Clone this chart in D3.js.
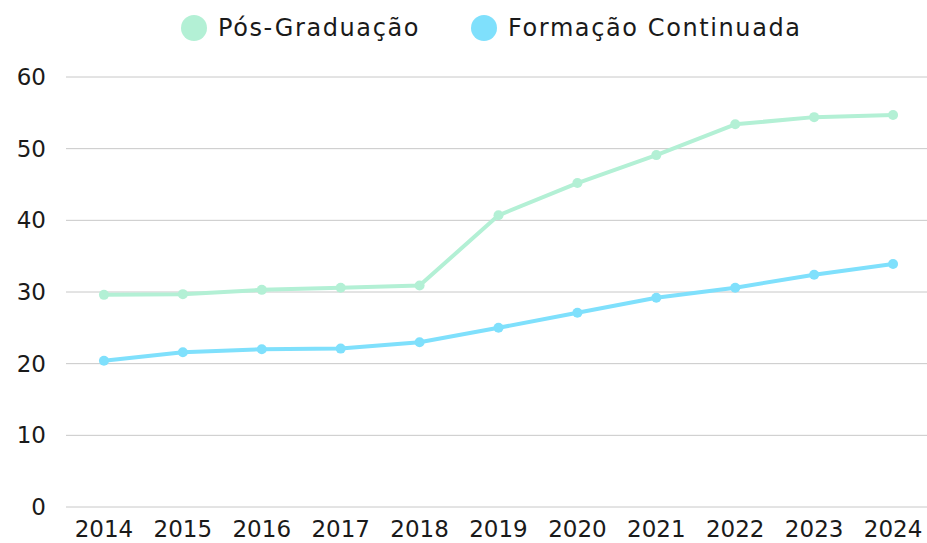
<!DOCTYPE html>
<html>
<head>
<meta charset="utf-8">
<script src="https://cdn.jsdelivr.net/npm/d3@7"></script>
<style>
  body { margin: 0; background: #fff; }
  svg text { font-family: "DejaVu Sans", sans-serif; fill: #1a1a1a; }
</style>
</head>
<body>
<svg id="chart" width="927" height="543"></svg>
<script>
// data
const years = ['2014','2015','2016','2017','2018','2019','2020','2021','2022','2023','2024'];
const posGraduacao = [29.6, 29.7, 30.3, 30.6, 30.9, 40.7, 45.2, 49.1, 53.4, 54.4, 54.7];
const formacaoContinuada = [20.4, 21.6, 22.0, 22.1, 23.0, 25.0, 27.1, 29.2, 30.6, 32.4, 33.9];
const yTicks = [0, 10, 20, 30, 40, 50, 60];

const series = [
  { name: 'Pós-Graduação', values: posGraduacao, color: '#b3f0d5' },
  { name: 'Formação Continuada', values: formacaoContinuada, color: '#7fe0fc' }
];

const svg = d3.select('#chart');
const w = 927, h = 543;
const margin = { top: 77, bottom: 36, left: 66 };

// categories are spaced ~79px, the last band runs a bit past the window edge
const x = d3.scaleBand().domain(years).range([64.5, 932.5]).padding(0);
const y = d3.scaleLinear().domain([0, 60]).range([h - margin.bottom, margin.top]);
const cx = d => x(d) + x.bandwidth() / 2;

// gridlines
svg.append('g')
  .selectAll('line')
  .data(yTicks)
  .join('line')
  .attr('x1', margin.left)
  .attr('x2', w)
  .attr('y1', d => y(d))
  .attr('y2', d => y(d))
  .attr('stroke', '#c8c8c8')
  .attr('stroke-width', 1);

// y labels
svg.append('g')
  .selectAll('text')
  .data(yTicks)
  .join('text')
  .attr('x', 46)
  .attr('y', d => y(d))
  .attr('dy', '0.35em')
  .attr('text-anchor', 'end')
  .style('font-size', '23px')
  .text(d => d);

// x labels
svg.append('g')
  .selectAll('text')
  .data(years)
  .join('text')
  .attr('x', cx)
  .attr('y', 529)
  .attr('dy', '0.35em')
  .attr('text-anchor', 'middle')
  .style('font-size', '23px')
  .text(d => d);

const line = d3.line()
  .x((d, i) => cx(years[i]))
  .y(d => y(d));

series.forEach(s => {
  svg.append('path')
    .datum(s.values)
    .attr('fill', 'none')
    .attr('stroke', s.color)
    .attr('stroke-width', 4)
    .attr('stroke-linejoin', 'round')
    .attr('d', line);

  svg.append('g')
    .selectAll('circle')
    .data(s.values)
    .join('circle')
    .attr('cx', (d, i) => cx(years[i]))
    .attr('cy', d => y(d))
    .attr('r', 5)
    .attr('fill', s.color);
});

// legend
const legendX = [194, 484];
const legend = svg.append('g')
  .selectAll('g')
  .data(series)
  .join('g')
  .attr('transform', (d, i) => `translate(${legendX[i]},28)`);

legend.append('circle')
  .attr('r', 13)
  .attr('fill', d => d.color);

legend.append('text')
  .attr('x', 24)
  .attr('dy', '0.35em')
  .style('font-size', '24px')
  .style('letter-spacing', '1.6px')
  .text(d => d.name);
</script>
</body>
</html>
